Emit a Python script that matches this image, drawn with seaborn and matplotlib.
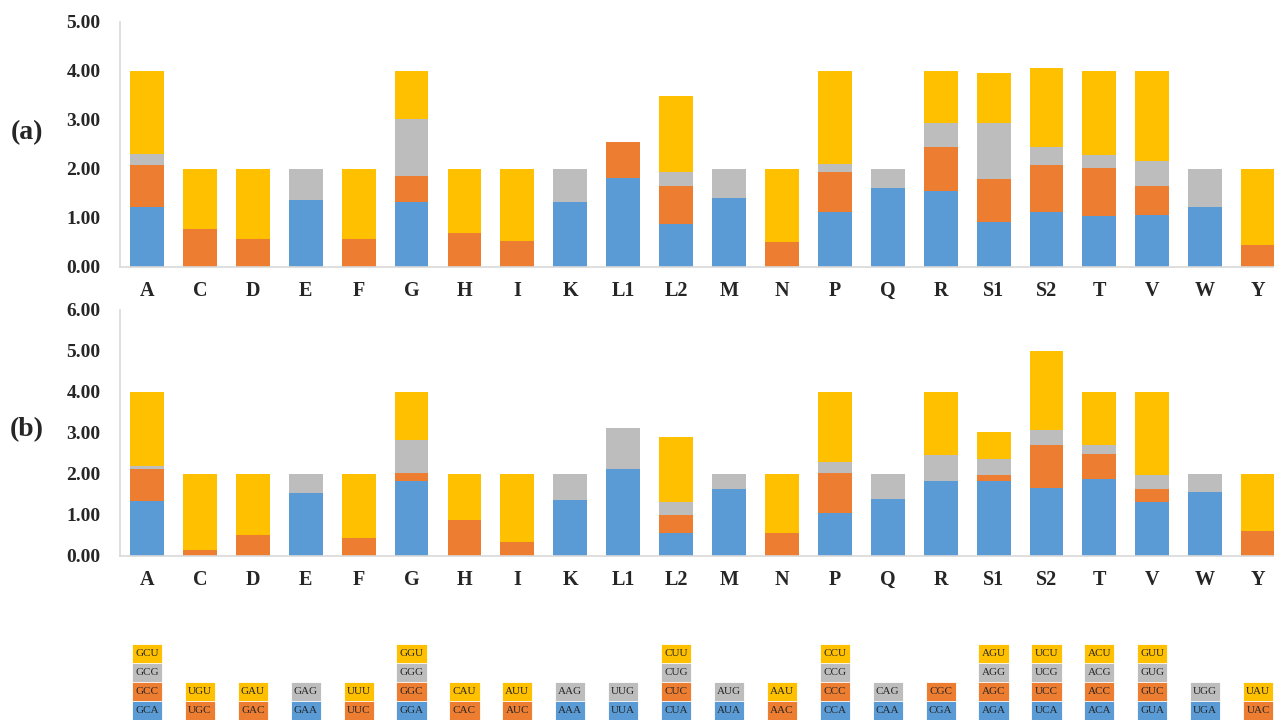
import numpy as np
import seaborn as sns
import matplotlib.pyplot as plt

sns.set_style('white')
plt.rcParams['font.family'] = ['Liberation Serif', 'DejaVu Serif']

aa = ['A', 'C', 'D', 'E', 'F', 'G', 'H', 'I', 'K', 'L1', 'L2', 'M', 'N', 'P',
      'Q', 'R', 'S1', 'S2', 'T', 'V', 'W', 'Y']

# panel (a)
a_blue = [1.21, 0, 0, 1.36, 0, 1.32, 0, 0, 1.33, 1.82, 0.87, 1.41, 0, 1.12, 1.60, 1.55, 0.92, 1.12, 1.03, 1.06, 1.23, 0]
a_orange = [0.86, 0.78, 0.57, 0, 0.56, 0.53, 0.68, 0.53, 0, 0.72, 0.77, 0, 0.50, 0.82, 0, 0.90, 0.87, 0.95, 0.99, 0.58, 0, 0.44]
a_gray = [0.24, 0, 0, 0.64, 0, 1.17, 0, 0, 0.67, 0, 0.30, 0.59, 0, 0.15, 0.40, 0.49, 1.15, 0.38, 0.27, 0.52, 0.77, 0]
a_yellow = [1.69, 1.22, 1.43, 0, 1.44, 0.98, 1.32, 1.47, 0, 0, 1.54, 0, 1.50, 1.91, 0, 1.06, 1.02, 1.62, 1.71, 1.84, 0, 1.56]

# panel (b)
b_blue = [1.34, 0, 0, 1.53, 0, 1.83, 0, 0, 1.36, 2.12, 0.55, 1.63, 0, 1.04, 1.39, 1.83, 1.83, 1.66, 1.87, 1.31, 1.56, 0]
b_orange = [0.78, 0.15, 0.51, 0, 0.45, 0.19, 0.88, 0.34, 0, 0, 0.44, 0, 0.55, 0.98, 0, 0, 0.13, 1.03, 0.62, 0.32, 0, 0.60]
b_gray = [0.08, 0, 0, 0.47, 0, 0.80, 0, 0, 0.64, 0.99, 0.32, 0.37, 0, 0.28, 0.61, 0.64, 0.40, 0.37, 0.20, 0.33, 0.44, 0]
b_yellow = [1.80, 1.85, 1.49, 0, 1.55, 1.18, 1.12, 1.66, 0, 0, 1.59, 0, 1.45, 1.70, 0, 1.53, 0.67, 1.94, 1.31, 2.04, 0, 1.40]

# codons per amino acid, bottom to top
codons = [
    ['GCA', 'GCC', 'GCG', 'GCU'], ['UGC', 'UGU'], ['GAC', 'GAU'], ['GAA', 'GAG'],
    ['UUC', 'UUU'], ['GGA', 'GGC', 'GGG', 'GGU'], ['CAC', 'CAU'], ['AUC', 'AUU'],
    ['AAA', 'AAG'], ['UUA', 'UUG'], ['CUA', 'CUC', 'CUG', 'CUU'], ['AUA', 'AUG'],
    ['AAC', 'AAU'], ['CCA', 'CCC', 'CCG', 'CCU'], ['CAA', 'CAG'], ['CGA', 'CGC'],
    ['AGA', 'AGC', 'AGG', 'AGU'], ['UCA', 'UCC', 'UCG', 'UCU'], ['ACA', 'ACC', 'ACG', 'ACU'],
    ['GUA', 'GUC', 'GUG', 'GUU'], ['UGA', 'UGG'], ['UAC', 'UAU'],
]

colors = {'A': '#5B9BD5', 'C': '#ED7D31', 'G': '#BDBDBD', 'U': '#FFC000'}

W, H = 1274, 721
fig = plt.figure(figsize=(W / 100, H / 100), dpi=100)

left = 120 / W
xlim = (-0.51, 21.3)


def stacked(ax, blue, orange, gray, yellow, ymax):
    blue = np.array(blue)
    layers = [
        (blue + np.array(orange) + np.array(gray) + np.array(yellow), colors['U']),
        (blue + np.array(orange) + np.array(gray), colors['G']),
        (blue + np.array(orange), colors['C']),
        (blue, colors['A']),
    ]
    for vals, col in layers:
        sns.barplot(x=aa, y=vals, order=aa, color=col, width=0.64,
                    saturation=1, linewidth=0, ax=ax)
    ax.set_xlim(*xlim)
    ax.set_ylim(0, ymax)
    ax.set_yticks(range(ymax + 1))
    ax.set_yticklabels(['%.2f' % v for v in range(ymax + 1)])
    for s in ['top', 'right']:
        ax.spines[s].set_visible(False)
    for s in ['left', 'bottom']:
        ax.spines[s].set_color('#D9D9D9')
        ax.spines[s].set_linewidth(1.2)
    ax.tick_params(axis='x', length=0, pad=10, labelsize=14.5)
    ax.tick_params(axis='y', length=0, pad=14, labelsize=14)
    for t in ax.get_xticklabels() + ax.get_yticklabels():
        t.set_fontweight('bold')
    ax.set_xlabel('')
    ax.set_ylabel('')


ax_a = fig.add_axes([left, 1 - 266.7 / H, 1 - left, (266.7 - 22) / H])
stacked(ax_a, a_blue, a_orange, a_gray, a_yellow, 5)

ax_b = fig.add_axes([left, 1 - 556 / H, 1 - left, (556 - 309.5) / H])
stacked(ax_b, b_blue, b_orange, b_gray, b_yellow, 6)

fig.text(27 / W, 1 - 133 / H, '(a)', fontsize=20, fontweight='bold', ha='center', va='center')
fig.text(27 / W, 1 - 430 / H, '(b)', fontsize=20, fontweight='bold', ha='center', va='center')

# codon key
ax_c = fig.add_axes([left, 1 / H, 1 - left, 76 / H])
for p in range(4, 0, -1):
    for nt, col in colors.items():
        sub = [a for a, cl in zip(aa, codons) if len(cl) >= p and cl[p - 1][-1] == nt]
        if sub:
            sns.barplot(x=sub, y=[p] * len(sub), order=aa, color=col, width=0.57,
                        saturation=1, linewidth=0.6, edgecolor='white', ax=ax_c)
for i, cl in enumerate(codons):
    for j, c in enumerate(cl):
        ax_c.text(i, j + 0.5, c, ha='center', va='center', fontsize=8, color='#262626')
ax_c.set_xlim(*xlim)
ax_c.set_ylim(0, 4)
ax_c.axis('off')

fig.savefig('out.png', dpi=100)
